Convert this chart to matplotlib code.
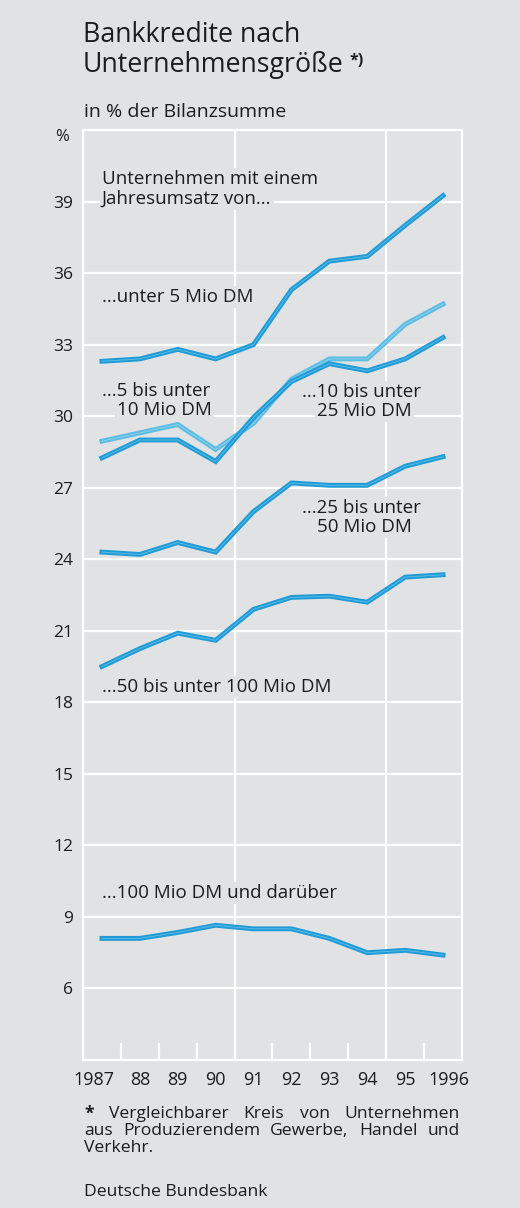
import matplotlib
matplotlib.use("Agg")
import matplotlib.pyplot as plt
import matplotlib.transforms as mtransforms

# ---- data ----
years = [1987, 1988, 1989, 1990, 1991, 1992, 1993, 1994, 1995, 1996]
year_labels = ["1987", "88", "89", "90", "91", "92", "93", "94", "95", "1996"]
under_5 = [32.3, 32.4, 32.8, 32.4, 33.0, 35.3, 36.5, 36.7, 38.0, 39.25]
from_5_to_10 = [28.95, 29.3, 29.65, 28.6, 29.7, 31.55, 32.4, 32.4, 33.85, 34.7]
from_10_to_25 = [28.25, 29.0, 29.0, 28.1, 29.95, 31.45, 32.2, 31.9, 32.4, 33.3]
from_25_to_50 = [24.3, 24.2, 24.7, 24.3, 26.0, 27.2, 27.1, 27.1, 27.9, 28.3]
from_50_to_100 = [19.5, 20.25, 20.9, 20.6, 21.9, 22.4, 22.45, 22.2, 23.25, 23.35]
over_100 = [8.1, 8.1, 8.35, 8.65, 8.5, 8.5, 8.1, 7.5, 7.6, 7.4]
y_ticks = [6, 9, 12, 15, 18, 21, 24, 27, 30, 33, 36, 39]

BG = "#e1e2e4"
BLUE = "#1f9bd7"
BLUE_C = "#63bfe6"
LBLUE = "#5cbde3"
LBLUE_C = "#93d3ee"
TXT = "#1c1c1c"
FONT = "Open Sans"

plt.rcParams["font.family"] = [FONT, "DejaVu Sans"]

W, H = 520, 1208
fig = plt.figure(figsize=(W / 100, H / 100), dpi=100, facecolor=BG)
ax = fig.add_axes([83 / W, 148 / H, 379 / W, 930 / H])
ax.set_facecolor(BG)
ax.set_xlim(1986.5, 1996.5)
ax.set_ylim(3, 42)

for s in ax.spines.values():
    s.set_color("white")
    s.set_linewidth(1.6)

ax.set_yticks(y_ticks)
ax.set_yticklabels([str(v) for v in y_ticks])
ax.tick_params(axis="y", length=0, pad=7, labelsize=12.5, labelcolor=TXT)
ax.grid(axis="y", color="white", linewidth=1.6, zorder=1)
ax.set_axisbelow(True)

ax.set_xticks(years)
ax.set_xticklabels(year_labels)
ax.tick_params(axis="x", which="major", length=0, pad=8, labelsize=13, labelcolor=TXT)
ax.set_xticks([y + 0.5 for y in years[:-1]], minor=True)
ax.tick_params(axis="x", which="minor", direction="in", length=12.5, width=1.6, color="white")
for lab, dx in zip(ax.get_xticklabels(), [-8] + [0] * 8 + [6]):
    lab.set_transform(lab.get_transform() + mtransforms.ScaledTranslation(dx / 100, 0, fig.dpi_scale_trans))

for xv in (1990.5, 1994.5):
    ax.axvline(xv, color="white", linewidth=1.6, zorder=1)


def draw(vals, base, center):
    ax.plot(years, vals, color=base, linewidth=3.5, solid_joinstyle="miter", zorder=4)
    ax.plot(years, vals, color=center, linewidth=0.6, zorder=4)


draw(from_5_to_10, LBLUE, LBLUE_C)
for series in (under_5, from_10_to_25, from_25_to_50, from_50_to_100, over_100):
    draw(series, BLUE, BLUE_C)

box = dict(facecolor=BG, edgecolor="none", pad=1.5)
tk = dict(fontsize=13.5, color=TXT, va="center", ha="left", zorder=3, bbox=box)


def ptext(xpix, ypix, s, **kw):
    d = dict(tk)
    d.update(kw)
    ax.text(xpix / W, 1 - ypix / H, s, transform=fig.transFigure, **d)


ptext(102, 179, "Unternehmen mit einem")
ptext(102, 199, "Jahresumsatz von...")
ptext(102, 297, "...unter 5 Mio DM")
ptext(102, 391, "...5 bis unter")
ptext(117, 410, "10 Mio DM")
ptext(302, 392, "...10 bis unter")
ptext(317, 411, "25 Mio DM")
ptext(302, 508, "...25 bis unter")
ptext(317, 527, "50 Mio DM")
ptext(102, 687, "...50 bis unter 100 Mio DM")
ptext(102, 893, "...100 Mio DM und darüber")

# titles
fig.text(83 / W, 1 - 35 / H, "Bankkredite nach", fontsize=19.3, color=TXT, va="center", ha="left")
t2 = fig.text(83 / W, 1 - 65 / H, "Unternehmensgröße", fontsize=19.3, color=TXT, va="center", ha="left")
renderer = fig.canvas.get_renderer()
ext = t2.get_window_extent(renderer)
fig.text((ext.x1 + 6) / W, 1 - 61 / H, "*)", fontsize=11.5, fontweight="bold", color=TXT, va="center", ha="left")
fig.text(84 / W, 1 - 112 / H, "in % der Bilanzsumme", fontsize=14, color=TXT, va="center", ha="left")
fig.text(62 / W, 1 - 137 / H, "%", fontsize=12, color=TXT, va="center", ha="center")

# footnote (justified lines)
x0, x1 = 84, 460
FN = 12.6


def justified(words, ypix, bold_first=False):
    texts = []
    for i, w in enumerate(words):
        t = fig.text(0, 1 - ypix / H, w, fontsize=FN, color=TXT, va="center", ha="left",
                     fontweight="bold" if (bold_first and i == 0) else "normal")
        texts.append(t)
    widths = [t.get_window_extent(renderer).width for t in texts]
    gap = (x1 - x0 - sum(widths)) / (len(words) - 1)
    x = x0
    for t, w in zip(texts, widths):
        t.set_x(x / W)
        x += w + gap


justified(["*", "Vergleichbarer", "Kreis", "von", "Unternehmen"], 1114, bold_first=True)
justified(["aus", "Produzierendem", "Gewerbe,", "Handel", "und"], 1131)
fig.text(x0 / W, 1 - 1148 / H, "Verkehr.", fontsize=FN, color=TXT, va="center", ha="left")
fig.text(x0 / W, 1 - 1192 / H, "Deutsche Bundesbank", fontsize=FN, color=TXT, va="center", ha="left")

fig.savefig("out.png", dpi=100, facecolor=BG)
